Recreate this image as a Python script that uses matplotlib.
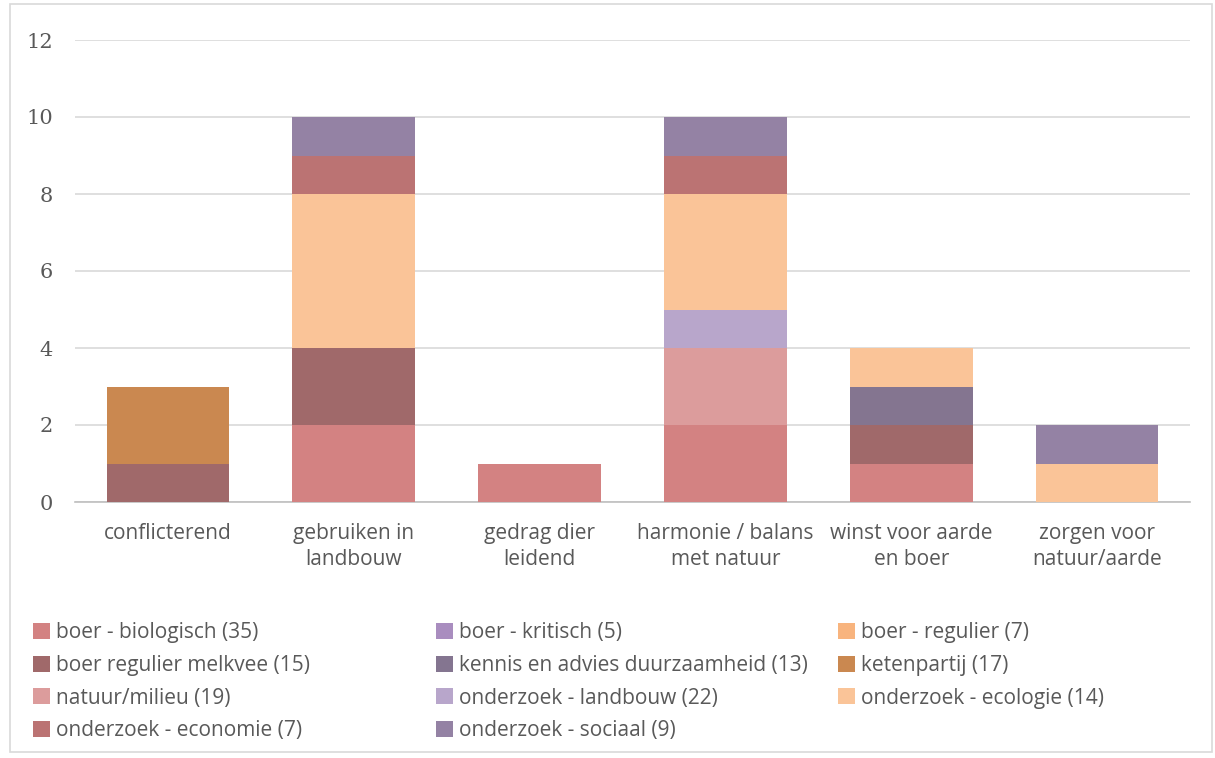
import numpy as np
import matplotlib.pyplot as plt
from matplotlib.patches import Patch, Rectangle

# Categorieën (x-as)
categorieen = ["conflicterend", "gebruiken in\nlandbouw", "gedrag dier\nleidend",
               "harmonie / balans\nmet natuur", "winst voor aarde\nen boer", "zorgen voor\nnatuur/aarde"]

# Reeksen (gestapeld, van onder naar boven)
reeksen = ["boer - biologisch (35)", "boer - kritisch (5)", "boer - regulier (7)",
           "boer regulier melkvee (15)", "kennis en advies duurzaamheid (13)", "ketenpartij (17)",
           "natuur/milieu (19)", "onderzoek - landbouw (22)", "onderzoek - ecologie (14)",
           "onderzoek - economie (7)", "onderzoek - sociaal (9)"]

boer_biologisch = [0, 2, 1, 2, 1, 0]
boer_kritisch = [0, 0, 0, 0, 0, 0]
boer_regulier = [0, 0, 0, 0, 0, 0]
boer_melkvee = [1, 2, 0, 0, 1, 0]
kennis_advies = [0, 0, 0, 0, 1, 0]
ketenpartij = [2, 0, 0, 0, 0, 0]
natuur_milieu = [0, 0, 0, 2, 0, 0]
onderzoek_landbouw = [0, 0, 0, 1, 0, 0]
onderzoek_ecologie = [0, 4, 0, 3, 1, 1]
onderzoek_economie = [0, 1, 0, 1, 0, 0]
onderzoek_sociaal = [0, 1, 0, 1, 0, 1]

waarden = [boer_biologisch, boer_kritisch, boer_regulier, boer_melkvee, kennis_advies,
           ketenpartij, natuur_milieu, onderzoek_landbouw, onderzoek_ecologie,
           onderzoek_economie, onderzoek_sociaal]

kleuren = ["#D38282", "#A98DBF", "#F8B47E", "#A0696A", "#847590", "#CA8850",
           "#DC9C9C", "#B8A6CB", "#FAC498", "#BB7373", "#9482A4"]

fig = plt.figure(figsize=(12.15, 7.58), dpi=100)
ax = fig.add_axes([75 / 1215, 1 - 502 / 758, 1115 / 1215, 462 / 758])

x = np.arange(len(categorieen))
onder = np.zeros(len(categorieen))
for naam, vals, kleur in zip(reeksen, waarden, kleuren):
    vals = np.array(vals, dtype=float)
    ax.bar(x, vals, width=0.66, bottom=onder, color=kleur, label=naam, zorder=3)
    onder += vals

ax.set_xlim(-0.5, len(categorieen) - 0.5)
ax.set_ylim(0, 12)
ax.set_yticks(range(0, 13, 2))
ax.yaxis.grid(True, color="#D9D9D9", linewidth=1.2, zorder=0)
ax.set_axisbelow(True)
for s in ["top", "right", "left"]:
    ax.spines[s].set_visible(False)
ax.spines["bottom"].set_color("#BFBFBF")
ax.spines["bottom"].set_linewidth(1.2)
ax.tick_params(length=0)
ax.set_xticks(x)
ax.set_xticklabels(categorieen, fontsize=15, color="#595959", family="Open Sans", linespacing=1.32)
ax.tick_params(axis="x", pad=15)
for lbl in ax.get_yticklabels():
    lbl.set_family("DejaVu Serif")
    lbl.set_fontsize(15)
    lbl.set_color("#595959")
ax.tick_params(axis="y", pad=16)

# legenda in drie kolommen, per rij gevuld
kolommen = [[0, 3, 6, 9], [1, 4, 7, 10], [2, 5, 8]]
kolom_x = [25 / 1215, 428 / 1215, 830 / 1215]
for idx, kx in zip(kolommen, kolom_x):
    handles = [Patch(facecolor=kleuren[i], label=reeksen[i]) for i in idx]
    fig.legend(handles=handles, loc="upper left", bbox_to_anchor=(kx, 1 - 614 / 758),
               frameon=False, labelcolor="#595959", handlelength=0.8,
               handleheight=0.8, handletextpad=0.3, labelspacing=0.56,
               prop={"family": "Open Sans", "size": 15}, borderaxespad=0)

fig.patches.append(Rectangle((10 / 1215, 6 / 758), 1202 / 1215, 748 / 758,
                             transform=fig.transFigure, fill=False,
                             edgecolor="#D9D9D9", linewidth=1.2))

plt.savefig("out.png", dpi=100)
